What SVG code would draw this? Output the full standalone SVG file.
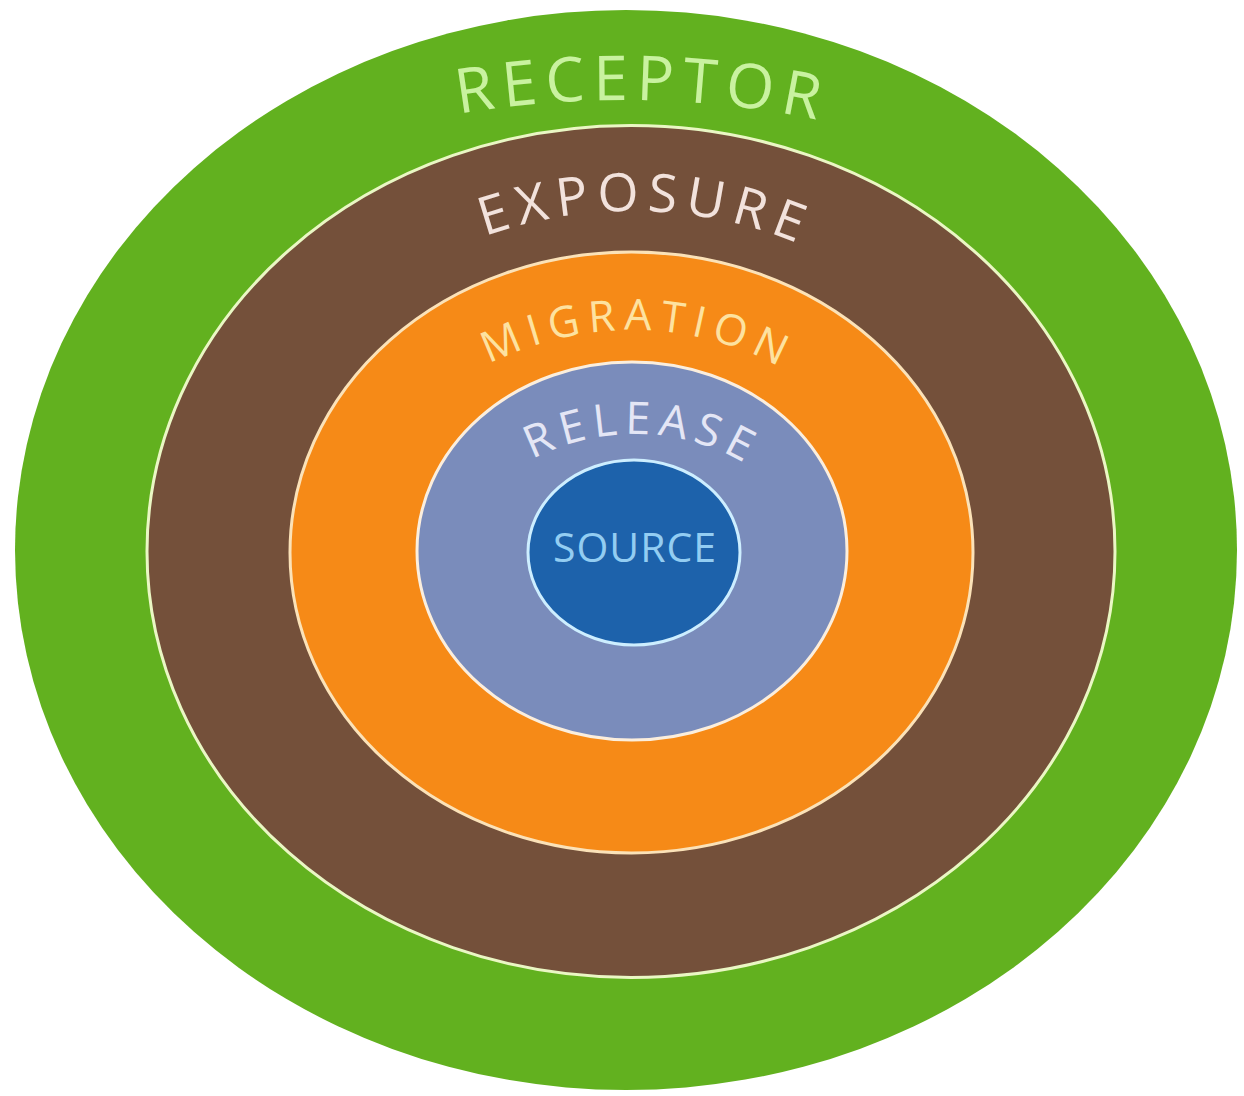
<svg xmlns="http://www.w3.org/2000/svg" width="1244" height="1096" viewBox="0 0 1244 1096">
  <style>
    .lbl { font-family: "Open Sans", "Noto Sans", "Liberation Sans", sans-serif; font-weight: normal; }
  </style>
  <defs>
    <path id="arcReceptor" d="M 323 147.9 A 963 963 0 0 1 923 147.9"/>
    <path id="arcExposure" d="M 282 384.4 A 440 440 0 0 1 982 384.4"/>
    <path id="arcMigration" d="M 352 500.7 A 315 315 0 0 1 912 500.7"/>
    <path id="arcRelease" d="M 435 562.35 A 220 220 0 0 1 835 562.35"/>
  </defs>
  <rect width="1244" height="1096" fill="#ffffff"/>

  <g id="receptor">
    <ellipse cx="626" cy="550" rx="611" ry="540" fill="#62b11f"/>
    <text class="lbl" font-size="62" fill="#c9f2a0" letter-spacing="8"><textPath href="#arcReceptor" startOffset="324" text-anchor="middle">RECEPTOR</textPath></text>
  </g>

  <g id="exposure">
    <ellipse cx="631" cy="551.5" rx="484" ry="426" fill="#74503a" stroke="#eaf7c4" stroke-width="3"/>
    <text class="lbl" font-size="53" fill="#f2e2dc" letter-spacing="8"><textPath href="#arcExposure" startOffset="418" text-anchor="middle">EXPOSURE</textPath></text>
  </g>

  <g id="migration">
    <ellipse cx="631.5" cy="552.5" rx="341.5" ry="300.5" fill="#f68a17" stroke="#fbe2b8" stroke-width="3"/>
    <text class="lbl" font-size="43" fill="#fde2a0" letter-spacing="8"><textPath href="#arcMigration" startOffset="351" text-anchor="middle">MIGRATION</textPath></text>
  </g>

  <g id="release">
    <ellipse cx="632" cy="551" rx="215" ry="189" fill="#7a8cbb" stroke="#fbeedd" stroke-width="3"/>
    <text class="lbl" font-size="45" fill="#e4e6f5" letter-spacing="7"><textPath href="#arcRelease" startOffset="258" text-anchor="middle">RELEASE</textPath></text>
  </g>

  <g id="source">
    <ellipse cx="634" cy="552.5" rx="106" ry="92.5" fill="#1d62ab" stroke="#cdeeff" stroke-width="3"/>
    <text class="lbl" x="635" y="562" font-size="41" fill="#93cdf2" text-anchor="middle" letter-spacing="1">SOURCE</text>
  </g>
</svg>
